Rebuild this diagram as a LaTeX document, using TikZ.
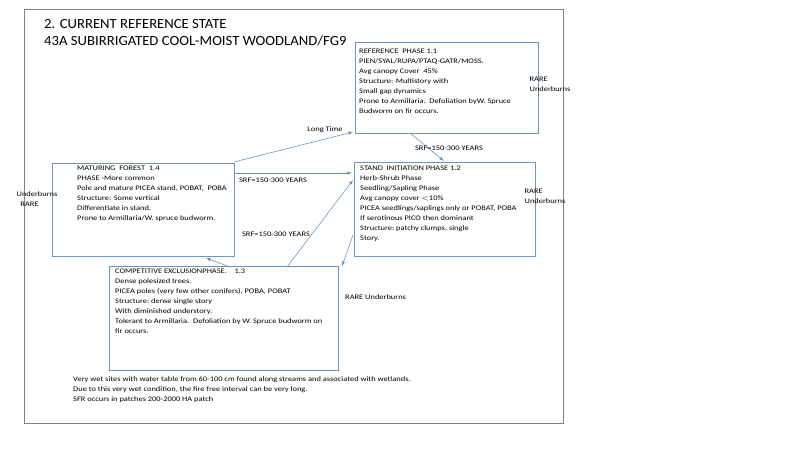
\documentclass[tikz,border=0pt]{standalone}
\usepackage{fontspec}
\setmainfont{Carlito}
\usetikzlibrary{arrows}
\tikzset{>=latex}
\definecolor{boxblue}{RGB}{110,150,185}
\tikzset{
	phasebox/.style={draw=boxblue, line width=0.6pt},
	txt/.style={font=\fontsize{7}{10}\selectfont, align=left, inner sep=0pt, xscale=1.2, transform shape},
	flow/.style={->, draw=boxblue, line width=0.6pt}
}
\begin{document}
\begin{tikzpicture}[x=1pt, y=-1pt]
	\useasboundingbox (0,0) rectangle (800,450);
	\draw[gray, line width=0.6pt] (24,9) rectangle (563,423);

	% Title
	\node[anchor=west, font=\fontsize{14}{17}\selectfont, align=left, inner sep=0pt, xscale=1.05, transform shape] (title) at (44,33)
	{2. CURRENT REFERENCE STATE\\43A SUBIRRIGATED COOL-MOIST WOODLAND/FG9};

	%% Boxes
	\draw[phasebox] (355,42) rectangle (538,133);
	\node[txt, anchor=north west] (t11) at (359,49) {REFERENCE\ \ PHASE\ 1.1\\PIEN/SYAL/RUPA/PTAQ-GATR/MOSS.\\Avg canopy Cover\ \ 45\%\\Structure: Multistory with\\Small gap dynamics\\Prone to Armillaria.\ \ Defoliation byW. Spruce\\Budworm on fir occurs.};
	%
	\draw[phasebox] (354,162) rectangle (535,256);
	\node[txt, anchor=north west] (t12) at (360,166) {STAND\ \ INITIATION PHASE\ 1.2\\Herb-Shrub Phase\\Seedling/Sapling Phase\\Avg canopy cover $<$10\%\\PICEA seedlings/saplings only or POBAT, POBA\\If serotinous PICO then dominant\\Structure:\ patchy clumps, single\\Story.};
	%
	\draw[phasebox] (52,163) rectangle (234,256);
	\node[txt, anchor=north west] (t14) at (77,166) {MATURING\ \ FOREST\ \ 1.4\\PHASE -More common\\Pole and mature PICEA stand, POBAT,\ \ POBA\\Structure: Some vertical\\Differentiate in stand.\\Prone to Armillaria/W. spruce budworm.};
	%
	\draw[phasebox] (109,266) rectangle (338,370);
	\node[txt, anchor=north west] (t13) at (115,269) {COMPETITIVE EXCLUSIONPHASE.\ \ \ \ 1.3\\Dense polesized trees.\\PICEA poles (very few other conifers), POBA, POBAT\\Structure:\ dense single story\\With diminished understory.\\Tolerant to Armillaria.\ \ Defoliation by W. Spruce budworm on\\fir occurs.};

	%% Connectors
	\coordinate (a1) at (234,162);  \coordinate (a2) at (353,132);
	\coordinate (b1) at (410,133);  \coordinate (b2) at (444,161);
	\coordinate (c1) at (234,173);  \coordinate (c2) at (352,173);
	\coordinate (d1) at (287,267);  \coordinate (d2) at (353,180);
	\coordinate (e1) at (353,235);  \coordinate (e2) at (342,266);
	\coordinate (f1) at (230,267);  \coordinate (f2) at (206,258);
	\draw[flow] (a1) -- (a2);
	\draw[flow] (b1) -- (b2);
	\draw[flow] (c1) -- (c2);
	\draw[flow] (d1) -- (d2);
	\draw[flow] (e1) -- (e2);
	\draw[flow] (f1) -- (f2);

	%% Labels
	\node[txt] (lt) at (325,130) {Long Time};
	\node[txt] (s1) at (449,148) {SRF=150-300 YEARS};
	\node[txt] (s2) at (273,180) {SRF=150-300 YEARS};
	\node[txt] (s3) at (276,234) {SRF=150-300 YEARS};
	\node[txt] (u1) at (550,84) {RARE\\Underburns};
	\node[txt] (u2) at (545,196) {RARE\\Underburns};
	\node[txt] (u3) at (37,199) {Underburns\\\ \ RARE};
	\node[txt, anchor=west] (u4) at (345,297) {RARE Underburns};

	% Notes
	\node[txt, anchor=north west] (notes) at (73,376) {Very wet sites with water table from 60-100 cm found along streams and associated with wetlands.\\Due to this very wet condition, the fire free interval can be very long.\\SFR occurs in patches 200-2000 HA patch};
\end{tikzpicture}
\end{document}
